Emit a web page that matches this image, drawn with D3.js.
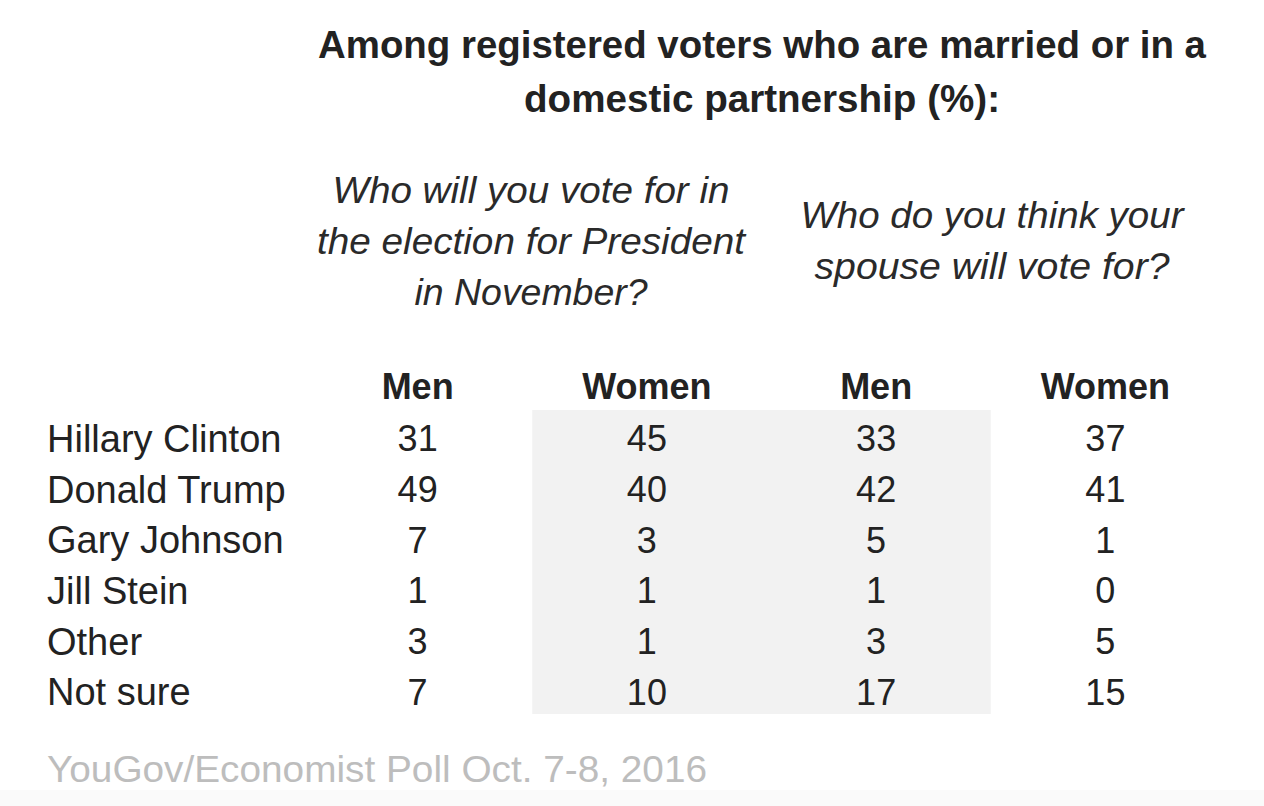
<!DOCTYPE html>
<html>
<head>
<meta charset="utf-8">
<script src="https://cdn.jsdelivr.net/npm/d3@7"></script>
<style>
  body { margin: 0; background: #fff; }
  svg { display: block; font-family: "Liberation Sans", Arial, sans-serif; }
</style>
</head>
<body>
<script>
"use strict";

// DATA
const candidates = ["Hillary Clinton", "Donald Trump", "Gary Johnson", "Jill Stein", "Other", "Not sure"];
const columns = ["selfMen", "selfWomen", "spouseMen", "spouseWomen"];
const columnLabels = ["Men", "Women", "Men", "Women"];
const selfMen = [31, 49, 7, 1, 3, 7];
const selfWomen = [45, 40, 3, 1, 1, 10];
const spouseMen = [33, 42, 5, 1, 3, 17];
const spouseWomen = [37, 41, 1, 0, 5, 15];
const titleLines = ["Among registered voters who are married or in a", "domestic partnership (%):"];
const questionSelf = ["Who will you vote for in", "the election for President", "in November?"];
const questionSpouse = ["Who do you think your", "spouse will vote for?"];
const source = "YouGov/Economist Poll Oct. 7-8, 2016";

const values = { selfMen, selfWomen, spouseMen, spouseWomen };

const width = 1264;
const height = 806;

const svg = d3.select("body").append("svg").attr("width", width).attr("height", height);

// faint grey strip at the very bottom
svg.append("rect").attr("x", 0).attr("y", 790).attr("width", width).attr("height", 16).attr("fill", "#fafafa");

const x = d3.scaleBand(columns, [303, 1220]);
const y = d3.scaleBand(candidates, [413, 717]);

// shaded middle columns
svg.append("rect")
  .attr("x", x("selfWomen"))
  .attr("y", y.range()[0] - 3)
  .attr("width", x.bandwidth() * 2)
  .attr("height", y.range()[1] - y.range()[0])
  .attr("fill", "#f2f2f2");

// TITLE
const titleWidths = [888, 476];
svg.append("g")
  .attr("font-weight", "bold")
  .attr("font-size", 38)
  .attr("fill", "#222")
  .attr("text-anchor", "middle")
  .selectAll("text")
  .data(titleLines)
  .join("text")
  .attr("x", 762)
  .attr("y", (d, i) => 58 + i * 54)
  .attr("textLength", (d, i) => titleWidths[i])
  .attr("lengthAdjust", "spacingAndGlyphs")
  .text((d) => d);

// QUESTIONS
const qSelfWidths = [397, 428, 233];
const qSpouseWidths = [383, 355];
const qStyle = (g) => g
  .attr("font-style", "italic")
  .attr("font-size", 36)
  .attr("fill", "#2a2a2a")
  .attr("text-anchor", "middle");

svg.append("g").call(qStyle)
  .selectAll("text")
  .data(questionSelf)
  .join("text")
  .attr("x", 531)
  .attr("y", (d, i) => 203 + i * 51)
  .attr("textLength", (d, i) => qSelfWidths[i])
  .attr("lengthAdjust", "spacingAndGlyphs")
  .text((d) => d);

svg.append("g").call(qStyle)
  .selectAll("text")
  .data(questionSpouse)
  .join("text")
  .attr("x", 992)
  .attr("y", (d, i) => 228 + i * 51)
  .attr("textLength", (d, i) => qSpouseWidths[i])
  .attr("lengthAdjust", "spacingAndGlyphs")
  .text((d) => d);

// COLUMN HEADERS
svg.append("g")
  .attr("font-weight", "bold")
  .attr("font-size", 36)
  .attr("fill", "#222")
  .attr("text-anchor", "middle")
  .selectAll("text")
  .data(columns)
  .join("text")
  .attr("x", (d) => x(d) + x.bandwidth() / 2)
  .attr("y", 399)
  .text((d, i) => columnLabels[i]);

// ROW LABELS
svg.append("g")
  .attr("font-size", 38)
  .attr("fill", "#222")
  .selectAll("text")
  .data(candidates)
  .join("text")
  .attr("x", 47)
  .attr("y", (d) => y(d) + y.bandwidth() / 2)
  .attr("dy", "0.36em")
  .text((d) => d);

// CELLS
svg.append("g")
  .attr("font-size", 36)
  .attr("fill", "#222")
  .attr("text-anchor", "middle")
  .selectAll("g")
  .data(columns)
  .join("g")
  .attr("transform", (c) => `translate(${x(c) + x.bandwidth() / 2},0)`)
  .selectAll("text")
  .data((c) => values[c].map((v, i) => ({ v, cand: candidates[i] })))
  .join("text")
  .attr("y", (d) => y(d.cand) + y.bandwidth() / 2)
  .attr("dy", "0.36em")
  .text((d) => d.v);

// SOURCE
svg.append("text")
  .attr("x", 47)
  .attr("y", 782)
  .attr("font-size", 37)
  .attr("fill", "#bdbdbd")
  .attr("textLength", 660)
  .attr("lengthAdjust", "spacingAndGlyphs")
  .text(source);
</script>
</body>
</html>
